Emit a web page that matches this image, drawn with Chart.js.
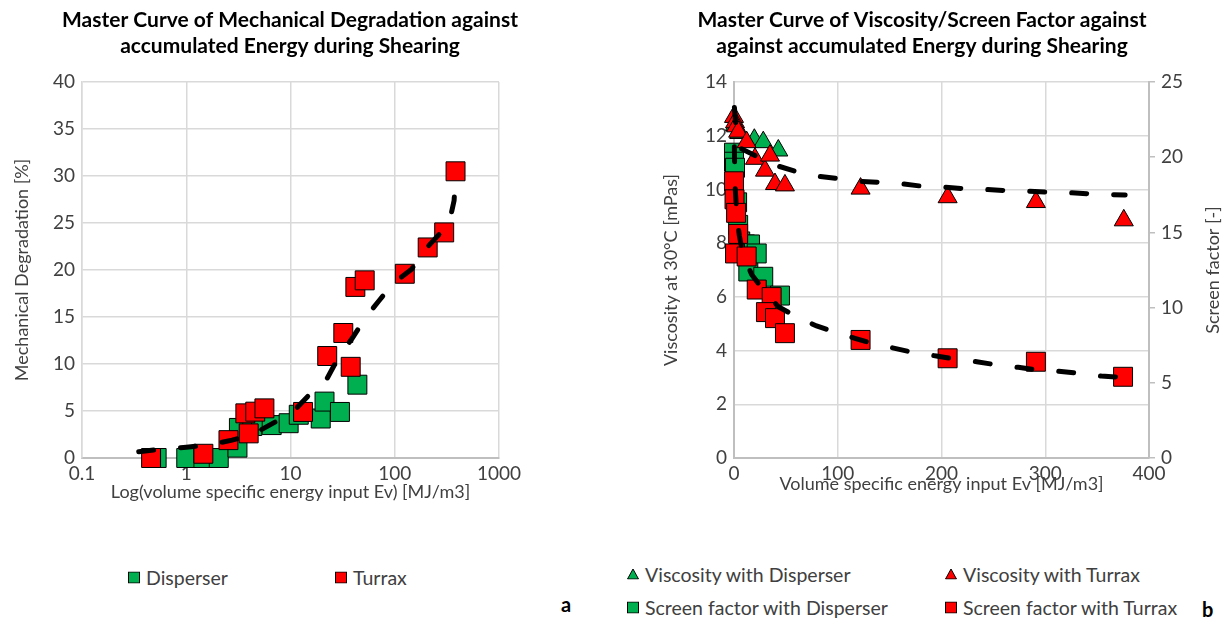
<!DOCTYPE html>
<html>
<head>
<meta charset="utf-8">
<script src="https://cdn.jsdelivr.net/npm/chart.js@4.4.1/dist/chart.umd.min.js"></script>
<style>
  body { margin: 0; width: 1231px; height: 626px; background: #fff; position: relative; overflow: hidden; font-family: Lato, sans-serif; }
  .box { position: absolute; }
  .item { position: absolute; display: flex; align-items: center; white-space: nowrap; font: 19.5px Lato, sans-serif; color: #404040; transform: translateY(-50%); }
  .item svg { margin-right: 6px; }
  .tag { position: absolute; font: bold 20px Lato, sans-serif; color: #000; }
</style>
</head>
<body>
<div class="box" style="left:0;top:0;width:580px;height:540px"><canvas id="chartA"></canvas></div>
<div class="box" style="left:613px;top:0;width:618px;height:540px"><canvas id="chartB"></canvas></div>
<div id="legends"></div>
<div class="tag" style="left:561px;top:592px">a</div>
<div class="tag" style="left:1202px;top:597px">b</div>
<script>
// (a) mechanical degradation vs energy input (log x)
var dispEnergyA = [0.52, 1.0, 1.46, 2.05, 3.1, 3.2, 4.3, 5.2, 6.6, 9.6, 12.0, 19.5, 21.2, 29.8, 43.8];
var dispDegA    = [0, 0, 0, 0, 1.1, 3.2, 3.4, 4.0, 3.5, 3.7, 4.6, 4.2, 6.0, 4.9, 7.8];
var turrEnergyA = [0.46, 1.46, 2.54, 3.69, 3.97, 4.59, 5.62, 13.2, 22.5, 32.1, 37.8, 41.9, 51.5, 124.8, 207, 298, 383];
var turrDegA    = [0, 0.45, 1.9, 4.75, 2.62, 4.93, 5.28, 4.9, 10.85, 13.3, 9.7, 18.2, 18.9, 19.6, 22.4, 24.0, 30.5];
var trendEnergyA = [0.35, 0.58, 1.0, 1.64, 2.75, 4.43, 7.2, 10.8, 15.6, 22.5, 29.1, 39.1, 52.6, 70.6, 98.4, 145, 191, 257, 333, 371, 383];
var trendDegA    = [0.67, 0.93, 1.14, 1.38, 1.9, 2.55, 3.86, 5.03, 6.88, 8.48, 10.78, 12.73, 14.97, 16.73, 18.65, 20.07, 22.05, 23.6, 25.0, 27.4, 30.3];
var logTicksA = [0.1, 1, 10, 100, 1000];

// (b) viscosity / screen factor vs energy input
var viscDispE = [1, 5, 19.6, 28.2, 42.7];
var viscDisp  = [12.4, 12.1, 11.85, 11.76, 11.45];
var viscTurrE = [0, 1, 2, 4, 12.2, 20.2, 29.9, 34.7, 39.5, 49.1, 122, 205.9, 291, 375.7];
var viscTurr  = [12.7, 12.5, 12.35, 12.15, 11.76, 11.14, 10.7, 11.26, 10.2, 10.15, 10.03, 9.71, 9.53, 8.85];
var sfDispE = [0, 0, 1, 3, 4, 6, 10.6, 15.4, 13.8, 21.9, 28.2, 44.3];
var sfDisp  = [20.3, 19.7, 19.3, 17.0, 15.5, 14.4, 14.2, 14.2, 12.4, 13.6, 12.05, 10.8];
var sfTurrE = [0, 0.5, 2, 4, 1, 12.2, 21.9, 36.3, 30.8, 39.5, 49.1, 122, 205.9, 291, 375];
var sfTurr  = [18.4, 17.2, 16.3, 14.9, 13.6, 13.4, 11.2, 10.7, 9.7, 9.3, 8.3, 7.85, 6.63, 6.4, 5.4];
var viscTrendE = [0.4, 1.5, 7.4, 23.4, 41, 62, 83, 100.5, 122, 142, 161.5, 181, 201.6, 221, 242, 261, 282, 301, 322, 341, 362, 377];
var viscTrend  = [13.05, 12.5, 11.51, 11.2, 10.89, 10.64, 10.48, 10.4, 10.3, 10.26, 10.21, 10.12, 10.09, 10.03, 10.0, 9.96, 9.94, 9.9, 9.88, 9.84, 9.81, 9.79];
var sfTrendE = [0.35, 0.6, 1.1, 2.6, 5.1, 8.4, 17, 28, 42.7, 58.8, 79.6, 95.7, 116.6, 132.6, 155, 174, 195, 213, 234, 252, 274, 291.6, 312, 332, 354, 372];
var sfTrend  = [20.7, 19.5, 18.0, 16.3, 14.8, 13.6, 12.2, 11.2, 10.06, 9.44, 8.78, 8.4, 7.96, 7.63, 7.29, 7.0, 6.78, 6.58, 6.4, 6.2, 6.03, 5.85, 5.78, 5.63, 5.45, 5.37];

Chart.defaults.font.family = 'Lato, sans-serif';
Chart.defaults.font.size = 18;
Chart.defaults.color = '#404040';
Chart.defaults.animation = false;

var GREEN = '#00b050', RED = '#ff0000', GRID = '#d9d9d9', AXIS = '#bfbfbf';
var TICK_FONT = { size: 19 };

function pts(xs, ys) {
    return xs.map(function (x, i) { return { x: x, y: ys[i] }; });
}
function markers(label, xs, ys, color, style, axis) {
    var r = style === 'rect' ? 13.4 : 11;
    return {
        label: label, data: pts(xs, ys), yAxisID: axis || 'y',
        pointStyle: style, pointRadius: r, pointHoverRadius: r,
        pointBackgroundColor: color, pointBorderColor: '#000', pointBorderWidth: 1,
        backgroundColor: color, borderColor: '#000', clip: false
    };
}
function trend(xs, ys, axis) {
    return {
        label: '', data: pts(xs, ys), yAxisID: axis || 'y', showLine: true,
        borderColor: '#000', borderWidth: 5, borderDash: [15, 27], borderCapStyle: 'round',
        pointRadius: 0, pointHoverRadius: 0, fill: false, clip: false
    };
}
function fixWidth(w) { return function (s) { s.width = w; }; }
function fixHeight(h) { return function (s) { s.height = h; }; }

// trend first so it sits on top of the markers
var dsA = [
    trend(trendEnergyA, trendDegA),
    markers('Turrax', turrEnergyA, turrDegA, RED, 'rect'),
    markers('Disperser', dispEnergyA, dispDegA, GREEN, 'rect')
];

new Chart(document.getElementById('chartA'), {
    type: 'scatter',
    data: { datasets: dsA },
    options: {
        responsive: true,
        maintainAspectRatio: false,
        layout: { padding: { left: 0, right: 0, top: 0, bottom: 32 } },
        scales: {
            x: {
                type: 'logarithmic', min: 0.1, max: 1000,
                afterBuildTicks: function (s) { s.ticks = logTicksA.map(function (v) { return { value: v }; }); },
                ticks: { callback: function (v) { return String(v); }, padding: 4, font: TICK_FONT },
                grid: { color: GRID, lineWidth: 1.5, drawTicks: false },
                border: { color: AXIS, width: 2 },
                title: { display: true, text: 'Log(volume specific energy input Ev) [MJ/m3]', padding: { top: 0, bottom: 5 } },
                afterFit: fixHeight(50)
            },
            y: {
                min: 0, max: 40,
                ticks: { stepSize: 5, padding: 7, font: TICK_FONT },
                grid: { color: GRID, lineWidth: 1.5, drawTicks: false },
                border: { color: GRID, width: 1.5 },
                title: { display: true, text: 'Mechanical Degradation [%]', padding: { top: 11, bottom: 0 } },
                afterFit: fixWidth(82)
            },
            // empty right-hand spacer, keeps the title centred on the whole panel
            spacer: {
                position: 'right', min: 0, max: 1,
                ticks: { display: false }, grid: { display: false }, border: { display: false },
                afterFit: fixWidth(81)
            }
        },
        plugins: {
            legend: { display: false },
            tooltip: { enabled: false },
            title: {
                display: true,
                text: ['Master Curve of Mechanical Degradation against', 'accumulated Energy during Shearing'],
                color: '#000',
                font: { size: 21, weight: 'bold', lineHeight: 1.2 },
                padding: { top: 8, bottom: 23.6 }
            }
        }
    }
});

var dsB = [
    trend(viscTrendE, viscTrend, 'y'),
    trend(sfTrendE, sfTrend, 'y2'),
    markers('Viscosity with Turrax', viscTurrE, viscTurr, RED, 'triangle', 'y'),
    markers('Viscosity with Disperser', viscDispE, viscDisp, GREEN, 'triangle', 'y'),
    markers('Screen factor with Turrax', sfTurrE, sfTurr, RED, 'rect', 'y2'),
    markers('Screen factor with Disperser', sfDispE, sfDisp, GREEN, 'rect', 'y2')
];

// right axis title reads bottom-to-top like the left one
var rightTitle = {
    id: 'rightTitle',
    afterDraw: function (chart) {
        var s = chart.scales.y2, ctx = chart.ctx;
        ctx.save();
        ctx.translate(s.right - 18, (s.top + s.bottom) / 2);
        ctx.rotate(-Math.PI / 2);
        ctx.font = '18px Lato, sans-serif';
        ctx.fillStyle = '#404040';
        ctx.textAlign = 'center';
        ctx.textBaseline = 'middle';
        ctx.fillText('Screen factor [-]', 0, 0);
        ctx.restore();
    }
};

new Chart(document.getElementById('chartB'), {
    type: 'scatter',
    data: { datasets: dsB },
    plugins: [rightTitle],
    options: {
        responsive: true,
        maintainAspectRatio: false,
        layout: { padding: { left: 0, right: 0, top: 0, bottom: 32 } },
        scales: {
            x: {
                min: 0, max: 400,
                ticks: { stepSize: 100, padding: 4, font: TICK_FONT },
                grid: { color: GRID, lineWidth: 1.5, drawTicks: false },
                border: { color: AXIS, width: 2 },
                title: { display: true, text: 'Volume specific energy input Ev [MJ/m3]', padding: { top: 0, bottom: 13 } },
                afterFit: fixHeight(50)
            },
            y: {
                position: 'left', min: 0, max: 14,
                ticks: { stepSize: 2, padding: 7, font: TICK_FONT },
                grid: { color: GRID, lineWidth: 1.5, drawTicks: false },
                border: { color: AXIS, width: 2 },
                title: { display: true, text: 'Viscosity at 30°C [mPas]', padding: { top: 47, bottom: 0 } },
                afterFit: fixWidth(121)
            },
            y2: {
                position: 'right', min: 0, max: 25,
                ticks: { stepSize: 5, padding: 6, font: TICK_FONT },
                grid: { color: AXIS, lineWidth: 1.5, drawOnChartArea: false, drawTicks: true, tickLength: 6 },
                border: { color: AXIS, width: 2 },
                afterFit: fixWidth(82)
            }
        },
        plugins: {
            legend: { display: false },
            tooltip: { enabled: false },
            title: {
                display: true,
                text: ['Master Curve of Viscosity/Screen Factor against', 'against accumulated Energy during Shearing'],
                color: '#000',
                font: { size: 21, weight: 'bold', lineHeight: 1.2 },
                padding: { top: 8, bottom: 23.6 }
            }
        }
    }
});

// legends built from the datasets (Excel-style spread out items)
function markerSvg(ds) {
    if (ds.pointStyle === 'triangle') {
        return '<svg width="12" height="11"><polygon points="6,0.5 11.5,10.5 0.5,10.5" fill="' + ds.pointBackgroundColor + '" stroke="#000" stroke-width="1"/></svg>';
    }
    return '<svg width="12" height="12"><rect x="0.5" y="0.5" width="11" height="11" fill="' + ds.pointBackgroundColor + '" stroke="#000" stroke-width="1"/></svg>';
}
function legendItem(ds, left, top) {
    return '<div class="item" style="left:' + left + 'px;top:' + top + 'px">' + markerSvg(ds) + '<span>' + ds.label + '</span></div>';
}
var html = '';
html += legendItem(dsA[2], 128, 577);
html += legendItem(dsA[1], 335, 577);
html += legendItem(dsB[3], 627, 574);
html += legendItem(dsB[2], 945, 574);
html += legendItem(dsB[5], 627, 607);
html += legendItem(dsB[4], 945, 607);
document.getElementById('legends').innerHTML = html;
</script>
</body>
</html>
